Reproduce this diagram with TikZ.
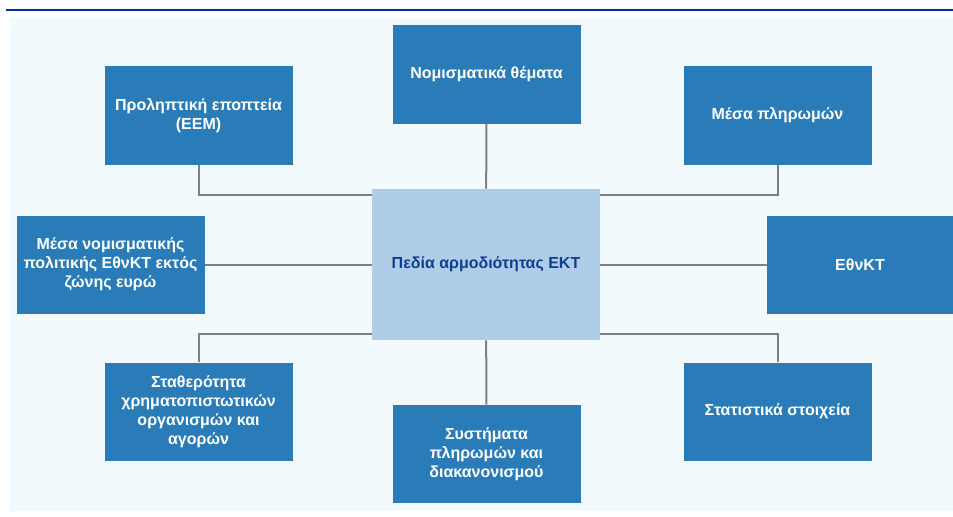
\documentclass[tikz,border=0pt]{standalone}
\usepackage{fontspec}
\setmainfont{Liberation Sans}
\definecolor{ecbline}{RGB}{0,50,153}
\definecolor{panel}{RGB}{243,250,254}
\definecolor{boxblue}{RGB}{41,124,183}
\definecolor{ctrfill}{RGB}{175,205,230}
\definecolor{ctrtext}{RGB}{16,62,145}
\definecolor{linkgray}{RGB}{128,128,128}
\begin{document}
\begin{tikzpicture} [x=0.75pt,y=-0.75pt,
field/.style={fill=boxblue,text=white,align=center,inner sep=1pt,
  minimum width=141pt,minimum height=73.5pt,
  font=\bfseries\fontsize{12}{14.25}\selectfont},
core/.style={fill=ctrfill,text=ctrtext,align=center,
  minimum width=171pt,minimum height=113.25pt,
  font=\bfseries\fontsize{12}{14.25}\selectfont},
link/.style={draw=linkgray,line width=1.5pt},
]
    \useasboundingbox (0,0) rectangle (953,517);
    \fill [panel] (10,18) rectangle (953,511);
    \draw [ecbline,line width=1.6pt] (6,10) -- (953,10);

    \node [core] (ctr) at (486,264.5) {Πεδία αρμοδιότητας ΕΚΤ};

    \node [field] (prud) at (198.5,115.5) {Προληπτική εποπτεία\\(ΕΕΜ)};
    \node [field] (mon) at (486.5,74.5) {Νομισματικά θέματα};
    \node [field] (pay) at (777.5,115.5) {Μέσα πληρωμών};
    \node [field] (ncb) at (110.5,264.5) {Μέσα νομισματικής\\πολιτικής ΕθνΚΤ εκτός\\ζώνης ευρώ};
    \node [field,minimum width=139.5pt] (nat) at (860,264.5) {ΕθνΚΤ};
    \node [field] (fin) at (198.5,411.5) {Σταθερότητα\\χρηματοπιστωτικών\\οργανισμών και\\αγορών};
    \node [field] (sys) at (486.5,454) {Συστήματα\\πληρωμών και\\διακανονισμού};
    \node [field] (stat) at (777.5,411.5) {Στατιστικά στοιχεία};

    \draw [link] (prud.south) |- ([yshift=-4.5pt]ctr.north west);
    \draw [link] (mon) -- (ctr);
    \draw [link] (pay.south) |- ([yshift=-4.5pt]ctr.north east);
    \draw [link] (ncb) -- (ctr);
    \draw [link] (nat) -- (ctr);
    \draw [link] (fin.north) |- ([yshift=5pt]ctr.south west);
    \draw [link] (sys) -- (ctr);
    \draw [link] (stat.north) |- ([yshift=5pt]ctr.south east);
\end{tikzpicture}
\end{document}
